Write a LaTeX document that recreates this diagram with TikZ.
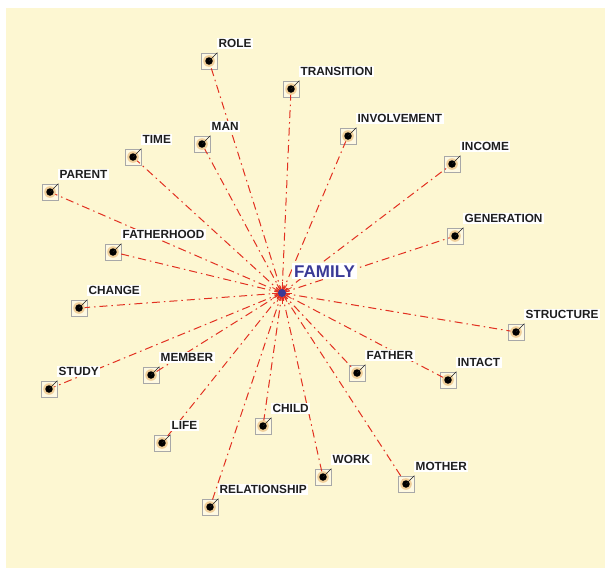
\documentclass[tikz,border=0pt]{standalone}
\usepackage{fontspec}
\setmainfont{Liberation Sans}
\definecolor{paper}{RGB}{253,247,210}
\definecolor{linkred}{RGB}{226,48,32}
\definecolor{framegray}{RGB}{168,168,168}
\definecolor{framefill}{RGB}{254,249,226}
\definecolor{halo}{RGB}{236,190,130}
\definecolor{hubblue}{RGB}{58,58,150}
\definecolor{ink}{RGB}{30,30,30}
\begin{document}
\begin{tikzpicture}[x=1pt,y=-1pt,
  link/.style={draw=linkred, line width=1pt, dash pattern=on 8pt off 4pt on 1.5pt off 4pt},
  frame/.style={draw=framegray, line width=0.7pt, fill=framefill, minimum size=16pt, inner sep=0pt},
  termdot/.style={circle, fill=black, minimum size=7.5pt, inner sep=0pt},
  word/.style={fill=white, inner sep=1.5pt, font=\bfseries\fontsize{11.8}{13}\selectfont, text=ink, anchor=base west},
  hublabel/.style={fill=white, inner sep=2pt, font=\bfseries\fontsize{17}{19}\selectfont, text=hubblue, anchor=base west},
]
% canvas
\useasboundingbox (0,0) rectangle (605,568);
\fill[white] (0,0) rectangle (605,568);
\fill[paper] (6,8) rectangle (605,568);

\def\terms{ROLE/209/61, TRANSITION/291/89, INVOLVEMENT/348/136, INCOME/452/164,
  GENERATION/455/236, STRUCTURE/516/332, INTACT/448/380, FATHER/357/373,
  MOTHER/406/484, WORK/323/477, CHILD/263/426, RELATIONSHIP/210/507,
  LIFE/162/443, MEMBER/151/375, STUDY/49/389, CHANGE/79/308,
  FATHERHOOD/113/252, PARENT/50/192, TIME/133/157, MAN/202/144}

% hub
\coordinate (hub) at (282,293);

% frames around each term marker
\foreach \n/\x/\y in \terms {
  \node[frame] (\n-box) at (\x,\y) {};
  \coordinate (\n) at (\x,\y);
}

% connectors from the hub to every term
\foreach \n/\x/\y in \terms {
  \draw[link] (hub) -- (\n);
}

% term markers with halo and corner tick
\foreach \n/\x/\y in \terms {
  \fill[halo!70!paper] (\n) circle (5.8pt);
  \node[termdot] (\n-dot) at (\n) {};
  \draw[ink, line width=0.5pt] (\n) -- (\n-box.north east);
  \node[word] (\n-label) at ([xshift=8pt,yshift=13.5pt]\n) {\n};
}

% starburst at the hub
\foreach \a/\r in {0/10,15/7,30/11,45/8,60/10,75/7,90/11,105/8,120/10,135/7,150/11,165/8,
                   180/10,195/7,210/11,225/8,240/10,255/7,270/11,285/8,300/10,315/7,330/11,345/8} {
  \draw[linkred, line width=0.8pt] (hub) -- ++(\a:\r);
}
\node[circle, fill=hubblue, minimum size=8pt, inner sep=0pt] (hub-dot) at (hub) {};
\node[hublabel] (family) at ([xshift=10pt,yshift=16pt]hub) {FAMILY};
\end{tikzpicture}
\end{document}
